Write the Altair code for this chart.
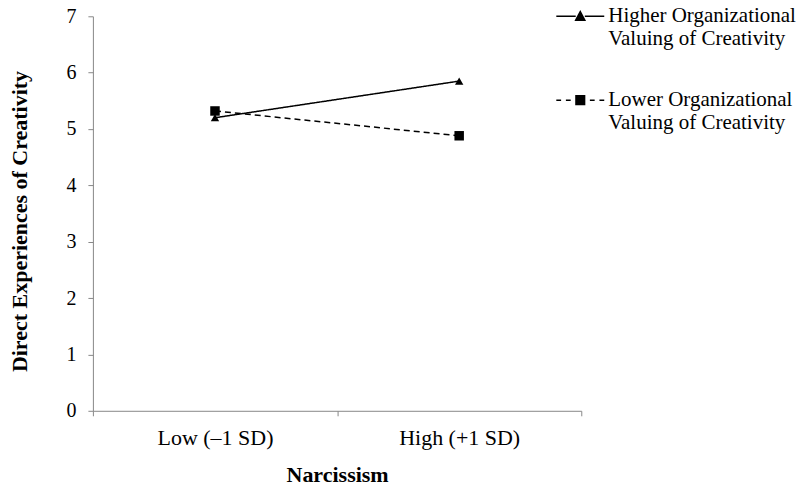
import altair as alt
import pandas as pd

categories = ["Low (–1 SD)", "High (+1 SD)"]
series = ["Higher Organizational|Valuing of Creativity",
          "Lower Organizational|Valuing of Creativity"]
higher_vals = [5.20, 5.85]
lower_vals = [5.32, 4.88]

rows = []
for c, v in zip(categories, higher_vals):
    rows.append({"x": c, "y": v, "series": series[0]})
for c, v in zip(categories, lower_vals):
    rows.append({"x": c, "y": v, "series": series[1]})
df = pd.DataFrame(rows)

FONT = "Liberation Serif"
FS = 22

xenc = alt.X("x:N", sort=categories,
             scale=alt.Scale(type="band", paddingInner=0, paddingOuter=0),
             axis=alt.Axis(title="Narcissism", labelAngle=0, tickBand="extent",
                           labelPadding=12, titlePadding=16))
yenc = alt.Y("y:Q", scale=alt.Scale(domain=[0, 7], nice=False),
             axis=alt.Axis(title="Direct Experiences of Creativity", values=list(range(8)),
                           tickCount=8, labelPadding=12, titlePadding=34,
                           labelFontSize=20, titleFontSize=22, titleY=205))

lines = alt.Chart(df).mark_line(color="black", strokeWidth=1.5).encode(
    x=xenc, y=yenc,
    strokeDash=alt.StrokeDash("series:N", scale=alt.Scale(domain=series, range=[[1, 0], [6, 4]]), legend=None),
)

pts = alt.Chart(df).mark_point(filled=True, color="black", opacity=1).encode(
    x=xenc, y=yenc,
    shape=alt.Shape("series:N", scale=alt.Scale(domain=series, range=["triangle-up", "square"]), legend=None),
    size=alt.Size("series:N", scale=alt.Scale(domain=series, range=[70, 90]), legend=None),
)

# legend glyphs: line + marker (markers drawn as outline plus hatching so they read as solid)
tri = ("M-0.19,0.16L0,-0.2L0.19,0.16Z"
       "M-0.179,0.14L0.179,0.14M-0.148,0.08L0.148,0.08M-0.116,0.02L0.116,0.02"
       "M-0.084,-0.04L0.084,-0.04M-0.053,-0.10L0.053,-0.10M-0.021,-0.16L0.021,-0.16")
sq = ("M-0.18,-0.18L0.18,-0.18L0.18,0.18L-0.18,0.18Z"
      "M-0.18,-0.12L0.18,-0.12M-0.18,-0.06L0.18,-0.06M-0.18,0L0.18,0"
      "M-0.18,0.06L0.18,0.06M-0.18,0.12L0.18,0.12")
legend_paths = [
    "M-1,0L-0.19,0M0.19,0L1,0" + tri,
    "M-1,0L-0.8,0M-0.6,0L-0.4,0M0.4,0L0.6,0M0.8,0L1,0" + sq,
]

leg = alt.Chart(df).mark_point(filled=False, color="black", opacity=0).encode(
    x=xenc, y=yenc,
    shape=alt.Shape("series:N", scale=alt.Scale(domain=series, range=legend_paths),
                    legend=alt.Legend(title=None, orient="none", legendX=463, legendY=-25,
                                      symbolSize=2304, symbolOpacity=1,
                                      symbolStrokeColor="black",
                                      symbolStrokeWidth=1.5,
                                      labelExpr="split(datum.label, '|')",
                                      labelFont=FONT, labelFontSize=21, labelColor="black",
                                      labelOffset=3, labelLimit=300, rowPadding=26,
                                      labelBaseline="middle", padding=0)),
)

chart = alt.layer(lines, pts, leg).resolve_scale(shape="independent", size="independent").properties(
    width=489, height=395,
    autosize=alt.AutoSizeParams(type="none"),
    padding={"left": 85, "top": 8, "right": 218, "bottom": 74},
).configure_view(stroke=None).configure_axis(
    grid=False, domainColor="#888888", tickColor="#888888", tickSize=5,
    labelFont=FONT, labelFontSize=FS, labelColor="black",
    titleFont=FONT, titleFontSize=FS, titleFontWeight="bold", titleColor="black",
)

chart.save("out.html", embed_options={"renderer": "svg", "actions": False})
